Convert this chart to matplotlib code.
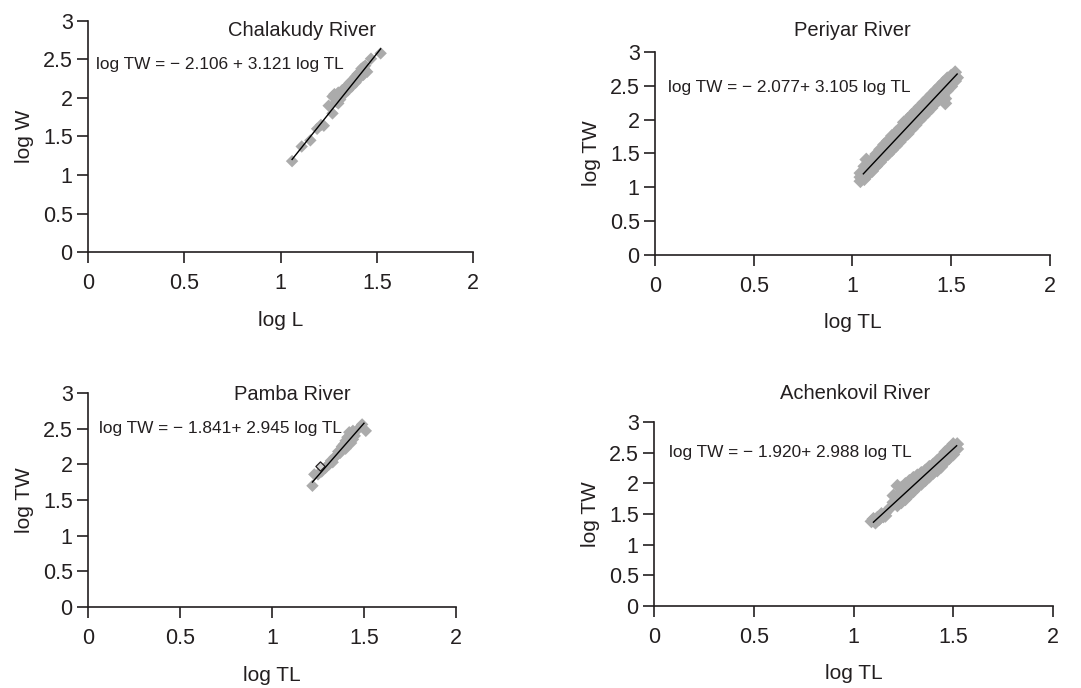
import matplotlib
matplotlib.use("Agg")
import matplotlib.pyplot as plt
import numpy as np

plt.rcParams['font.family'] = ['Liberation Sans', 'DejaVu Sans']

TEXT = '#231f20'
GRAY = '#ababab'

titles = ["Chalakudy River", "Periyar River", "Pamba River", "Achenkovil River"]
xlabels = ["log L", "log TL", "log TL", "log TL"]
ylabels = ["log W", "log TW", "log TW", "log TW"]
equations = [
    "log TW = \u2212 2.106 + 3.121 log TL",
    "log TW = \u2212 2.077+ 3.105 log TL",
    "log TW = \u2212 1.841+ 2.945 log TL",
    "log TW = \u2212 1.920+ 2.988 log TL",
]
intercepts = [-2.106, -2.077, -1.841, -1.920]
slopes = [3.121, 3.105, 2.945, 2.988]
line_x0 = [1.06, 1.055, 1.22, 1.10]
line_x1 = [1.52, 1.53, 1.50, 1.517]

xticks = [0, 0.5, 1, 1.5, 2]
xticklabels = ["0", "0.5", "1", "1.5", "2"]
yticks = [0, 0.5, 1, 1.5, 2, 2.5, 3]
yticklabels = ["0", "0.5", "1", "1.5", "2", "2.5", "3"]

# Chalakudy
chal_x = [1.06, 1.11, 1.155, 1.19, 1.21, 1.225, 1.25, 1.27, 1.27, 1.28, 1.29, 1.29, 1.30, 1.30,
          1.31, 1.31, 1.32, 1.33, 1.33, 1.34, 1.35, 1.35, 1.36, 1.37, 1.37, 1.38, 1.39, 1.39,
          1.40, 1.41, 1.41, 1.42, 1.43, 1.43, 1.44, 1.44, 1.45, 1.47, 1.52]
chal_y = [1.18, 1.37, 1.45, 1.60, 1.65, 1.64, 1.90, 1.80, 2.02, 2.05, 2.04, 1.95, 2.07, 1.93,
          2.03, 1.98, 2.10, 2.12, 2.05, 2.14, 2.16, 2.10, 2.20, 2.22, 2.15, 2.24, 2.28, 2.20,
          2.31, 2.33, 2.26, 2.38, 2.40, 2.30, 2.36, 2.42, 2.34, 2.51, 2.58]

# Periyar
peri_x = [1.04, 1.04, 1.04, 1.06, 1.06, 1.06, 1.07, 1.08, 1.08, 1.08, 1.10, 1.10, 1.10,
          1.12, 1.12, 1.12, 1.14, 1.14, 1.14, 1.16, 1.16, 1.16, 1.18, 1.18, 1.18,
          1.20, 1.20, 1.20, 1.22, 1.22, 1.22, 1.24, 1.24, 1.24, 1.26, 1.26, 1.26,
          1.28, 1.28, 1.28, 1.30, 1.30, 1.30, 1.32, 1.32, 1.32, 1.34, 1.34, 1.34,
          1.36, 1.36, 1.36, 1.38, 1.38, 1.38, 1.40, 1.40, 1.40, 1.42, 1.42, 1.42,
          1.44, 1.44, 1.44, 1.46, 1.46, 1.46, 1.47, 1.47, 1.48, 1.48, 1.48,
          1.50, 1.50, 1.50, 1.52, 1.52, 1.53]
peri_y = [1.09, 1.15, 1.21, 1.12, 1.21, 1.31, 1.41, 1.19, 1.28, 1.33, 1.24, 1.34, 1.41,
          1.31, 1.40, 1.49, 1.37, 1.46, 1.56, 1.44, 1.52, 1.63, 1.49, 1.59, 1.69,
          1.55, 1.65, 1.76, 1.61, 1.71, 1.81, 1.67, 1.77, 1.87, 1.74, 1.84, 1.96,
          1.79, 1.90, 2.01, 1.86, 1.96, 2.07, 1.92, 2.02, 2.13, 1.99, 2.08, 2.19,
          2.05, 2.15, 2.25, 2.11, 2.21, 2.31, 2.17, 2.27, 2.37, 2.24, 2.33, 2.43,
          2.30, 2.39, 2.49, 2.35, 2.46, 2.55, 2.24, 2.31, 2.43, 2.52, 2.61,
          2.49, 2.58, 2.65, 2.57, 2.70, 2.62]

# Pamba
pamb_x = [1.22, 1.23, 1.25, 1.27, 1.29, 1.30, 1.31, 1.32, 1.33, 1.34, 1.35, 1.36, 1.37,
          1.38, 1.39, 1.40, 1.40, 1.41, 1.42, 1.43, 1.44, 1.44, 1.45, 1.47, 1.49, 1.51]
pamb_y = [1.70, 1.86, 1.86, 1.90, 1.95, 1.98, 2.00, 2.05, 2.03, 2.10, 2.12, 2.18, 2.16,
          2.25, 2.28, 2.22, 2.33, 2.38, 2.45, 2.30, 2.35, 2.47, 2.40, 2.50, 2.56, 2.47]
pamb_open_x = [1.26]
pamb_open_y = [1.98]

# Achenkovil
ache_x = [1.09, 1.10, 1.11, 1.12, 1.12, 1.13, 1.14, 1.15, 1.16, 1.16,
          1.19, 1.20, 1.20, 1.21, 1.22, 1.22, 1.22, 1.24, 1.24, 1.24,
          1.26, 1.26, 1.26, 1.28, 1.28, 1.28, 1.30, 1.30, 1.30, 1.32, 1.32, 1.32,
          1.34, 1.34, 1.34, 1.36, 1.36, 1.36, 1.38, 1.38, 1.38, 1.40, 1.40, 1.40,
          1.42, 1.42, 1.42, 1.44, 1.44, 1.44, 1.46, 1.46, 1.46, 1.48, 1.48, 1.48,
          1.50, 1.50, 1.50, 1.52, 1.52]
ache_y = [1.38, 1.42, 1.36, 1.44, 1.40, 1.42, 1.50, 1.46, 1.52, 1.47,
          1.62, 1.69, 1.80, 1.70, 1.64, 1.80, 1.96, 1.69, 1.80, 1.93,
          1.74, 1.86, 1.99, 1.81, 1.92, 2.04, 1.87, 1.98, 2.09, 1.94, 2.03, 2.13,
          1.99, 2.09, 2.17, 2.05, 2.14, 2.21, 2.11, 2.20, 2.27, 2.17, 2.25, 2.31,
          2.21, 2.30, 2.37, 2.27, 2.36, 2.43, 2.35, 2.44, 2.51, 2.41, 2.50, 2.57,
          2.47, 2.56, 2.64, 2.56, 2.64]

xs = [chal_x, peri_x, pamb_x, ache_x]
ys = [chal_y, peri_y, pamb_y, ache_y]
marker_sizes = [40, 50, 40, 50]

rects = [
    [0.0814, 0.6337, 0.3562, 0.3358],
    [0.6059, 0.6294, 0.3654, 0.2951],
    [0.0814, 0.1177, 0.3404, 0.3110],
    [0.6050, 0.1192, 0.3691, 0.2674],
]
title_pos = [(1.11, 2.88), (1.0, 3.32), (1.11, 2.98), (1.01, 3.47)]
eq_pos = [(0.04, 2.43), (0.066, 2.48), (0.06, 2.50), (0.075, 2.51)]

fig = plt.figure(figsize=(10.81, 6.88), dpi=100)
for i in range(4):
    ax = fig.add_axes(rects[i])
    ax.set_xlim(0, 2)
    ax.set_ylim(0, 3)
    for s in ['top', 'right']:
        ax.spines[s].set_visible(False)
    for s in ['left', 'bottom']:
        ax.spines[s].set_linewidth(1.2)
        ax.spines[s].set_color(TEXT)
    ax.set_xticks(xticks)
    ax.set_xticklabels(xticklabels)
    ax.set_yticks(yticks)
    ax.set_yticklabels(yticklabels)
    ax.tick_params(axis='both', direction='out', length=8, width=1.2, color=TEXT,
                   labelsize=15.5, labelcolor=TEXT)
    ax.tick_params(axis='x', pad=7)
    ax.tick_params(axis='y', pad=3)
    ax.set_xlabel(xlabels[i], fontsize=15, color=TEXT, labelpad=12)
    ax.set_ylabel(ylabels[i], fontsize=15, color=TEXT, labelpad=6)

    ax.scatter(xs[i], ys[i], marker='D', s=marker_sizes[i], color=GRAY, edgecolors='none',
               zorder=2, clip_on=False)
    if i == 2:
        ax.scatter(pamb_open_x, pamb_open_y, marker='D', s=22, facecolors='#d0d0d0',
                   edgecolors=TEXT, linewidths=0.9, zorder=3)
    lx = np.array([line_x0[i], line_x1[i]])
    ax.plot(lx, intercepts[i] + slopes[i] * lx, color='black', lw=1.0, zorder=4)

    ax.text(title_pos[i][0], title_pos[i][1], titles[i], ha='center', va='center',
            fontsize=14.5, color=TEXT, clip_on=False)
    ax.text(eq_pos[i][0], eq_pos[i][1], equations[i], ha='left', va='center',
            fontsize=12.4, color=TEXT, clip_on=False)

fig.savefig("out.png", dpi=100)
